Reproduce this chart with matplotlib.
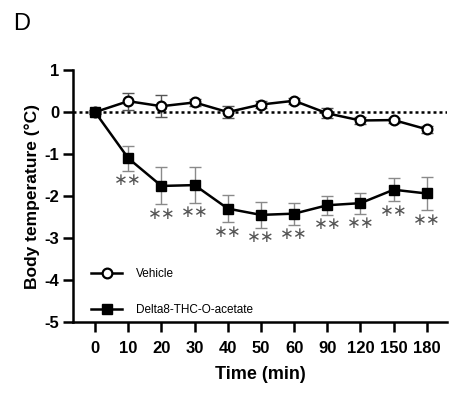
import numpy as np
import matplotlib.pyplot as plt

plt.rcParams['font.family'] = ['Liberation Sans', 'DejaVu Sans']

time_labels = ['0', '10', '20', '30', '40', '50', '60', '90', '120', '150', '180']
vehicle_mean = [0.0, 0.26, 0.14, 0.23, 0.0, 0.18, 0.27, -0.03, -0.20, -0.19, -0.41]
vehicle_err = [0.05, 0.20, 0.26, 0.08, 0.15, 0.08, 0.07, 0.12, 0.08, 0.06, 0.08]
delta_mean = [0.0, -1.10, -1.76, -1.74, -2.30, -2.45, -2.42, -2.22, -2.17, -1.85, -1.94]
delta_err = [0.05, 0.30, 0.44, 0.42, 0.33, 0.31, 0.26, 0.23, 0.25, 0.28, 0.40]
stars = ['', '**', '**', '**', '**', '**', '**', '**', '**', '**', '**']


def main():
    x = np.arange(len(time_labels))
    fig = plt.figure(figsize=(4.49, 3.94), dpi=100)
    ax = fig.add_axes([0.163, 0.183, 0.832, 0.639])

    ax.axhline(0, color='black', lw=1.8, ls=(0, (1.2, 1.2)), zorder=1)

    # error bars
    ax.errorbar(x, delta_mean, yerr=delta_err, fmt='none', ecolor='#8a8a8a',
                elinewidth=1.0, capsize=4, capthick=1.0, zorder=2)
    ax.errorbar(x, vehicle_mean, yerr=vehicle_err, fmt='none', ecolor='#555555',
                elinewidth=1.0, capsize=4, capthick=1.0, zorder=2)

    ax.plot(x, delta_mean, color='black', lw=1.8, marker='s', ms=7,
            mfc='black', mec='black', zorder=3, label='Delta8-THC-O-acetate')
    ax.plot(x, vehicle_mean, color='black', lw=1.8, marker='o', ms=7,
            mfc='white', mec='black', mew=1.6, zorder=4, label='Vehicle')
    ax.plot(x[:1], vehicle_mean[:1], 'o', ms=7, mfc='black', mec='black', zorder=5)

    for xi, m, e, s in zip(x, delta_mean, delta_err, stars):
        if s:
            ax.text(xi, m - e - 0.24, s.replace('*', '\u2217'), ha='center', va='center',
                    fontsize=12, color='#555555', zorder=6)

    ax.set_xlim(-0.66, 10.6)
    ax.set_ylim(-5, 1)
    ax.set_xticks(x)
    ax.set_xticklabels(time_labels)
    ax.set_yticks([1, 0, -1, -2, -3, -4, -5])
    ax.set_yticklabels(['1', '0', '-1', '-2', '-3', '-4', '-5'])
    for lab in ax.get_xticklabels() + ax.get_yticklabels():
        lab.set_fontweight('bold')
        lab.set_fontsize(12)
    ax.tick_params(axis='both', width=1.8, length=7, pad=3)
    ax.tick_params(axis='x', pad=7)
    for side in ['top', 'right']:
        ax.spines[side].set_visible(False)
    for side in ['left', 'bottom']:
        ax.spines[side].set_linewidth(1.8)

    ax.set_xlabel('Time (min)', fontsize=13, fontweight='bold', labelpad=7)
    ax.set_ylabel('Body temperature (\u00b0C)', fontsize=12.5, fontweight='bold', labelpad=3)

    handles, labels = ax.get_legend_handles_labels()
    ax.legend(handles[::-1], labels[::-1], loc='lower left', bbox_to_anchor=(0.02, -0.02),
              frameon=False, fontsize=8.5, handlelength=2.6, labelspacing=2.05,
              handletextpad=1.2)

    fig.text(0.03, 0.94, 'D', fontsize=17, va='center', ha='left')
    fig.savefig('out.png', dpi=100)
    return 0


if __name__ == "__main__":
    main()
